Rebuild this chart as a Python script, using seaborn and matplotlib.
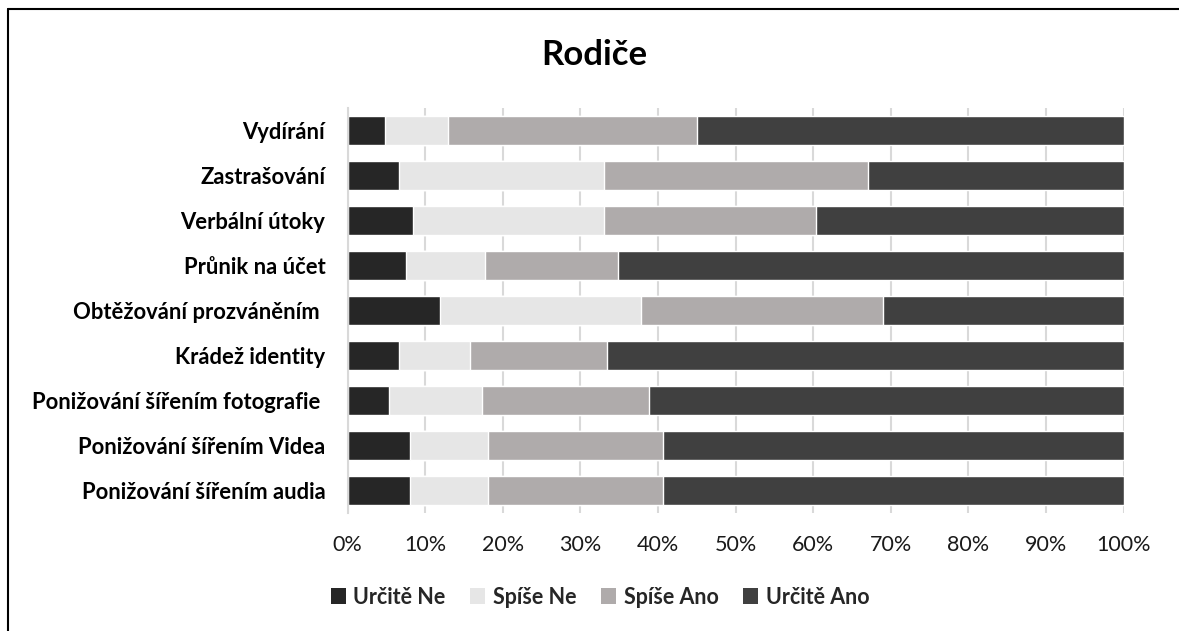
import numpy as np
import pandas as pd
import matplotlib
matplotlib.use("Agg")
import matplotlib.pyplot as plt
from matplotlib.patches import Patch
from matplotlib.lines import Line2D
import seaborn as sns

categories = ["Vydírání", "Zastrašování", "Verbální útoky", "Průnik na účet",
              "Obtěžování prozváněním ", "Krádež identity",
              "Ponižování šířením fotografie ", "Ponižování šířením Videa",
              "Ponižování šířením audia"]
series_names = ["Určitě Ne", "Spíše Ne", "Spíše Ano", "Určitě Ano"]
urcite_ne = [4.8, 6.6, 8.5, 7.6, 11.9, 6.6, 5.3, 8.1, 8.1]
spise_ne = [8.2, 26.4, 24.5, 10.1, 25.9, 9.2, 12.0, 10.0, 10.0]
spise_ano = [32.0, 34.1, 27.4, 17.2, 31.2, 17.7, 21.5, 22.5, 22.5]
urcite_ano = [55.0, 32.9, 39.6, 65.1, 31.0, 66.5, 61.2, 59.4, 59.4]
tick_labels = ["0%", "10%", "20%", "30%", "40%", "50%", "60%", "70%", "80%", "90%", "100%"]

colors = ["#262626", "#E6E6E6", "#AFABAB", "#404040"]

sns.set_theme(style="white")
plt.rcParams['font.family'] = ['Lato', 'DejaVu Sans']

W, H = 1179, 631
fig = plt.figure(figsize=(W / 100, H / 100), dpi=100)
ax = fig.add_axes([347.5 / W, 1 - 512.8 / H, 776 / W, (512.8 - 107.8) / H])

vals = np.array([urcite_ne, spise_ne, spise_ano, urcite_ano])
cum = np.cumsum(vals, axis=0)

for i in range(3, -1, -1):
    df = pd.DataFrame({"cat": categories, "val": cum[i]})
    sns.barplot(data=df, y="cat", x="val", color=colors[i], orient="h",
                width=0.65, ax=ax, saturation=1, zorder=2)

ax.set_xlim(0, 100)
ax.set_ylim(len(categories) - 0.5, -0.5)
ax.set_xticks(np.arange(0, 101, 10))
ax.set_xticklabels(tick_labels, fontsize=15.5, color="#1a1a1a")
ax.tick_params(axis="x", length=0, pad=16)
ax.tick_params(axis="y", length=0, pad=16)
for lab in ax.get_yticklabels():
    lab.set_fontweight("bold")
    lab.set_fontsize(15.8)
    lab.set_color("#000000")
ax.set_xlabel("")
ax.set_ylabel("")
ax.xaxis.grid(True, color="#D9D9D9", linewidth=1.5, zorder=0)
ax.set_axisbelow(True)
for s in ["top", "right", "bottom"]:
    ax.spines[s].set_visible(False)
ax.spines["left"].set_color("#D9D9D9")
ax.spines["left"].set_linewidth(1.5)

fig.text(594 / W, 1 - 55 / H, "Rodiče", ha="center", va="center",
         fontsize=25, fontweight="bold", color="#000000")

handles = [Patch(facecolor=c, edgecolor="none") for c in colors]
leg = fig.legend(handles, series_names, loc="center", bbox_to_anchor=(600 / W, 1 - 597 / H),
                 ncol=4, frameon=False, prop={"weight": "bold", "size": 15.5},
                 handlelength=0.7, handleheight=0.7, handletextpad=0.35, columnspacing=1.15)

fig.add_artist(Line2D([8 / W, 8 / W], [0, 1 - 9 / H], color="black", linewidth=1.5,
                      transform=fig.transFigure))
fig.add_artist(Line2D([8 / W, 1], [1 - 9 / H, 1 - 9 / H], color="black", linewidth=1.5,
                      transform=fig.transFigure))

fig.savefig("out.png", dpi=100, facecolor="white")
